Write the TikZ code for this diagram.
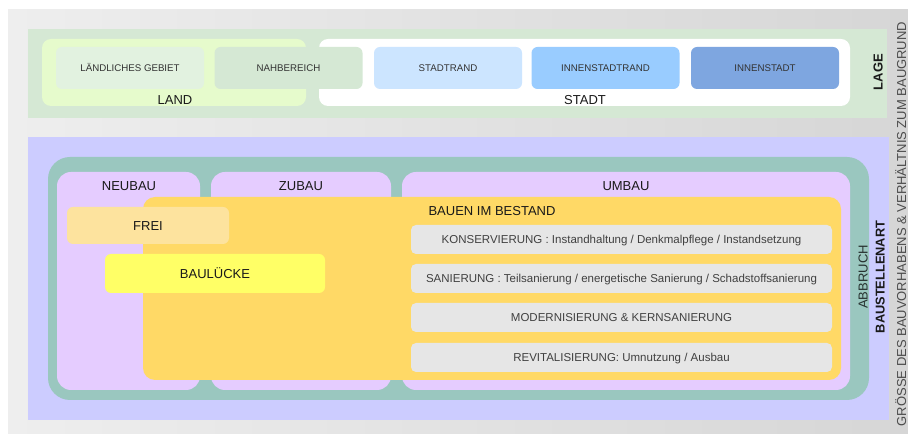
\documentclass[tikz,border=0pt]{standalone}
\usepackage{fontspec}
\setmainfont{Liberation Sans}
\usetikzlibrary{positioning}
\usepackage{xcolor}
\definecolor{backleft}{HTML}{EEEEEE}
\definecolor{backright}{HTML}{D6D6D6}
\definecolor{lagegreen}{HTML}{D5E8D4}
\definecolor{landgreen}{HTML}{E6FBCC}
\definecolor{ruralgreen}{HTML}{E2F2E0}
\definecolor{edgeblue}{HTML}{CCE5FF}
\definecolor{innerblue}{HTML}{99CCFF}
\definecolor{coreblue}{HTML}{7EA6E0}
\definecolor{sitelilac}{HTML}{CCCCFF}
\definecolor{demoteal}{HTML}{9AC7BF}
\definecolor{buildpink}{HTML}{E5CCFF}
\definecolor{stockorange}{HTML}{FFD966}
\definecolor{freeyellow}{HTML}{FDE39E}
\definecolor{gapyellow}{HTML}{FFFF66}
\definecolor{rowgrey}{HTML}{E6E6E6}
\tikzset{
  zone/.style 2 args = {
    rectangle, inner sep=0pt,
    minimum width=#1pt, minimum height=#2pt
  },
  tile/.style = {
    zone={148}{42}, rounded corners=6pt, text=black!80,
    font=\fontsize{9.7}{11}\selectfont, text height=6.9pt, text depth=0pt
  },
  rowbox/.style = {
    zone={421}{29}, rounded corners=5pt, fill=rowgrey, text=black!75,
    font=\fontsize{11.5}{13}\selectfont, text height=8.2pt, text depth=0pt
  },
  caption/.style = {
    inner sep=0pt, text=black!90,
    font=\fontsize{13}{15}\selectfont, text height=9.3pt, text depth=0pt
  },
  sidelabel/.style = {caption, rotate=90}
}

\begin{document}
\begin{tikzpicture}[x=1pt,y=-1pt]
\useasboundingbox (0,0) rectangle (908,435);

% --- grey backdrop ----------------------------------------------------------
\node[zone={900}{424}, left color=backleft, right color=backright] (backdrop) at (458,222) {};

% --- location band -----------------------------------------------------------
\node[zone={859}{89}, fill=lagegreen] (lage) at (457.5,73.5) {};
\node[zone={264}{67}, fill=landgreen, rounded corners=9pt] (land) at (174,72.5) {};
\node[zone={531}{67}, fill=white, rounded corners=9pt] (stadt) at (584.5,72.5) {};

\node[tile, fill=ruralgreen]  (rural)     at (130,68)   {LÄNDLICHES GEBIET};
\node[tile, fill=lagegreen]   (nahbereich) at (288.5,68) {NAHBEREICH};
\node[tile, fill=edgeblue]    (stadtrand) at (448,68)   {STADTRAND};
\node[tile, fill=innerblue]   (innenrand) at (605.5,68) {INNENSTADTRAND};
\node[tile, fill=coreblue]    (innenstadt) at (765,68)  {INNENSTADT};

\node[caption] (landlabel)  at (175,100) {LAND};
\node[caption] (stadtlabel) at (585,100) {STADT};
\node[sidelabel, font=\fontsize{13}{15}\selectfont\bfseries] (lagelabel) at (878,72) {LAGE};

% --- type of building work ---------------------------------------------------
\node[zone={861}{283}, fill=sitelilac] (site) at (458.5,278.5) {};
\node[zone={821}{243}, fill=demoteal, rounded corners=22pt] (abbruch) at (458.5,278.5) {};

\node[zone={143}{218}, fill=buildpink, rounded corners=14pt] (neubau) at (128.5,281) {};
\node[zone={180}{218}, fill=buildpink, rounded corners=14pt] (zubau)  at (301,281)   {};
\node[zone={448}{218}, fill=buildpink, rounded corners=14pt] (umbau)  at (626,281)   {};

\node[zone={698}{183}, fill=stockorange, rounded corners=12pt] (bestand) at (492,288.5) {};

\node[tile, zone={162}{37}, fill=freeyellow, caption] (frei)      at (148,225.5) {FREI};
\node[tile, zone={220}{39}, fill=gapyellow, caption]  (bauluecke) at (215,273.5) {BAULÜCKE};

\node[rowbox] (konserv)  at (621.5,239.5) {KONSERVIERUNG : Instandhaltung / Denkmalpflege / Instandsetzung};
\node[rowbox] (sanier)   at (621.5,278.5) {SANIERUNG : Teilsanierung / energetische Sanierung / Schadstoffsanierung};
\node[rowbox] (modern)   at (621.5,317.5) {MODERNISIERUNG \& KERNSANIERUNG};
\node[rowbox] (revital)  at (621.5,357.5) {REVITALISIERUNG: Umnutzung / Ausbau};

\node[caption] (neubaulabel)   at (129,186) {NEUBAU};
\node[caption] (zubaulabel)    at (301,186) {ZUBAU};
\node[caption] (umbaulabel)    at (626,186) {UMBAU};
\node[caption] (bestandlabel)  at (492,211) {BAUEN IM BESTAND};

\node[sidelabel, text=black!75!demoteal] (abbruchlabel) at (863,277) {ABBRUCH};
\node[sidelabel, font=\fontsize{12.8}{15}\selectfont\bfseries] (artlabel) at (880,277) {BAUSTELLENART};

% --- size of the project -----------------------------------------------------
\node[sidelabel, text=black!70, font=\fontsize{13}{15}\selectfont] (groesse) at (901.5,224)
  {GRÖSSE DES BAUVORHABENS \& VERHÄLTNIS ZUM BAUGRUND};

\end{tikzpicture}
\end{document}
